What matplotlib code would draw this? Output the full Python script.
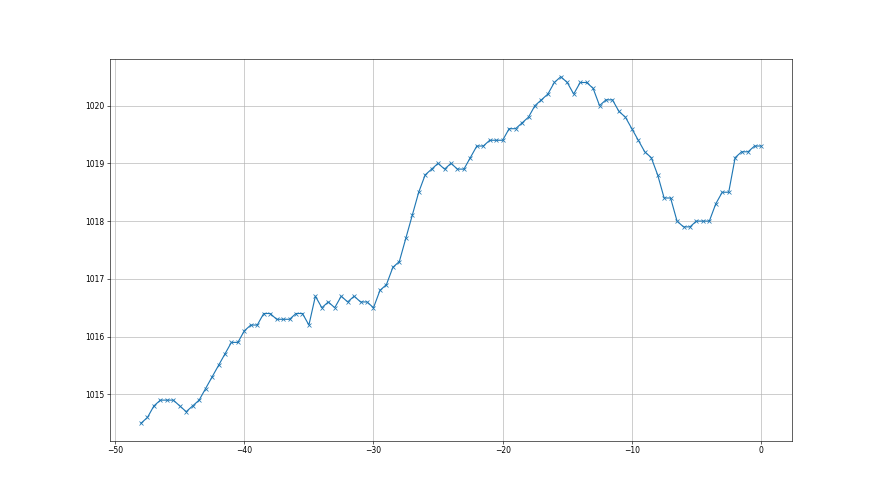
import numpy as np
import matplotlib
matplotlib.use('Agg')
import matplotlib.pyplot as plt

# hours relative to now, half-hour steps
hours = np.arange(-48, 0.5, 0.5)
pressure = [
    1014.5, 1014.6, 1014.8, 1014.9, 1014.9, 1014.9, 1014.8, 1014.7, 1014.8, 1014.9,
    1015.1, 1015.3, 1015.5, 1015.7, 1015.9, 1015.9, 1016.1, 1016.2, 1016.2, 1016.4,
    1016.4, 1016.3, 1016.3, 1016.3, 1016.4, 1016.4, 1016.2, 1016.7, 1016.5, 1016.6,
    1016.5, 1016.7, 1016.6, 1016.7, 1016.6, 1016.6, 1016.5, 1016.8, 1016.9, 1017.2,
    1017.3, 1017.7, 1018.1, 1018.5, 1018.8, 1018.9, 1019.0, 1018.9, 1019.0, 1018.9,
    1018.9, 1019.1, 1019.3, 1019.3, 1019.4, 1019.4, 1019.4, 1019.6, 1019.6, 1019.7,
    1019.8, 1020.0, 1020.1, 1020.2, 1020.4, 1020.5, 1020.4, 1020.2, 1020.4, 1020.4,
    1020.3, 1020.0, 1020.1, 1020.1, 1019.9, 1019.8, 1019.6, 1019.4, 1019.2, 1019.1,
    1018.8, 1018.4, 1018.4, 1018.0, 1017.9, 1017.9, 1018.0, 1018.0, 1018.0, 1018.3,
    1018.5, 1018.5, 1019.1, 1019.2, 1019.2, 1019.3, 1019.3,
]

fig = plt.figure(figsize=(16, 9), dpi=55)
plt.plot(hours, pressure, 'x-')
plt.grid(True)
plt.savefig('out.png', dpi=55)
